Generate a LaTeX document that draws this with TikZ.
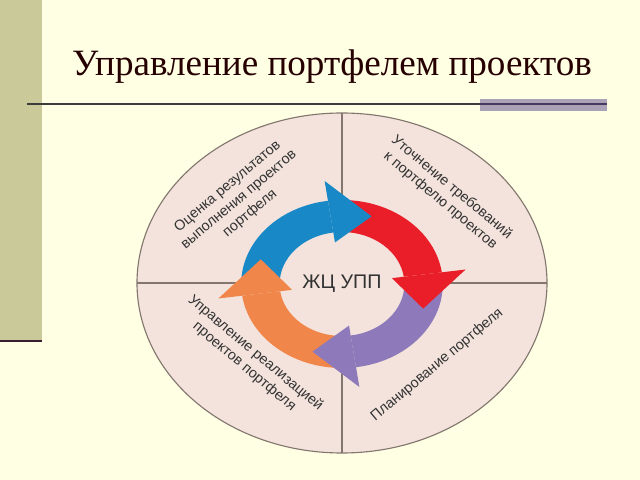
\documentclass[tikz,border=0pt]{standalone}
\usepackage{fontspec}
\setmainfont{Liberation Serif}
\setsansfont{Liberation Sans}
\definecolor{paper}{RGB}{255,255,228}
\definecolor{bar}{RGB}{201,201,153}
\definecolor{barline}{RGB}{60,28,48}
\definecolor{rule}{RGB}{60,60,60}
\definecolor{rulebox}{RGB}{170,162,182}
\definecolor{ruleink}{RGB}{72,56,92}
\definecolor{disc}{RGB}{243,227,220}
\definecolor{discedge}{RGB}{130,118,110}
\definecolor{txt}{RGB}{50,50,50}
\definecolor{cblue}{RGB}{24,136,198}
\definecolor{cred}{RGB}{234,30,40}
\definecolor{cpurple}{RGB}{142,122,186}
\definecolor{corange}{RGB}{241,134,74}

\begin{document}
\begin{tikzpicture}[x=0.025cm, y=0.025cm,
  qlabel/.style={font=\sffamily\fontsize{10.2}{12.4}\selectfont, text=txt,
    align=center, inner sep=0pt}]
 \useasboundingbox (0,0) rectangle (640,480);
 \fill[paper] (0,0) rectangle (640,480);
 \fill[bar] (0,140) rectangle (42,480);
 \draw[barline, line width=1.8pt] (0,139) -- (42,139);
 % title and rule
 \node[anchor=base, text=black!85!red, font=\fontsize{26.4}{32}\selectfont] (title)
   at (332,404) {Управление портфелем проектов};
 \fill[rulebox] (480,369) rectangle (607,381);
 \draw[rule, line width=1.1pt] (27,376) -- (480,376);
 \draw[ruleink, line width=1.6pt] (480,376) -- (607,376);
 % disc with quarters
 \draw[discedge, fill=disc, line width=0.8pt] (342,197) ellipse [x radius=205, y radius=170];
 \draw[discedge, line width=0.8pt] (342,27) -- (342,367) (137,197) -- (547,197);
 % life cycle ring
 \begin{scope}[shift={(342,196)}, xscale=1.2]
  \fill[disc] (0,0) circle [radius=86];
  \foreach \b/\c in {98/cblue, 8/cred, -82/cpurple, -172/corange}
    \fill[\c] ({\b+82}:84) arc[start angle=\b+82, end angle=\b, radius=84]
      -- (\b:52) arc[start angle=\b, end angle=\b+82, radius=52] -- cycle;
  \foreach \b/\c in {98/cblue, 8/cred, -82/cpurple, -172/corange}
    \fill[\c] (\b:104) -- ({\b-28}:72) -- (\b:42) -- cycle;
 \end{scope}
 \node[font=\sffamily\fontsize{14}{16}\selectfont, text=txt] (cycle) at (342,196) {ЖЦ УПП};
 % quarter labels
 \node[qlabel, rotate=40] (evalq) at (239,280) {Оценка результатов\\выполнения проектов\\портфеля};
 \node[qlabel, rotate=-40] (refineq) at (446,286) {Уточнение требований\\к портфелю проектов};
 \node[qlabel, rotate=-40] (execq) at (250,120) {Управление реализацией\\проектов портфеля};
 \node[qlabel, rotate=40] (planq) at (437,115) {Планирование портфеля};
\end{tikzpicture}
\end{document}
